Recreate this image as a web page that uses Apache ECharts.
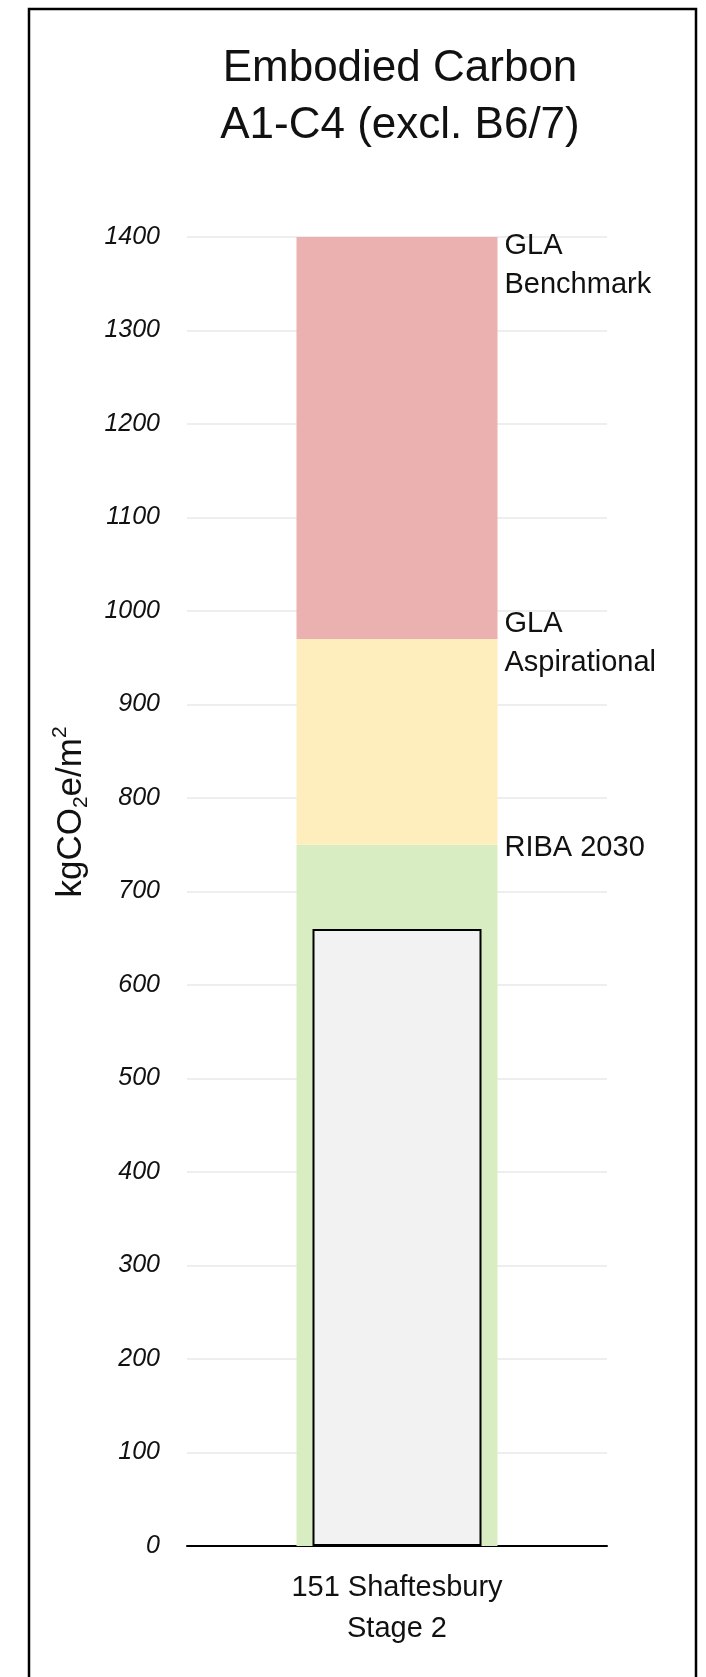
<!DOCTYPE html>
<html>
<head>
<meta charset="utf-8">
<title>Embodied Carbon</title>
<script src="https://cdn.jsdelivr.net/npm/echarts@6/dist/echarts.min.js"></script>
<style>
  html, body { margin: 0; padding: 0; background: #ffffff; }
  #chart { width: 706px; height: 1677px; }
</style>
</head>
<body>
<div id="chart"></div>
<script>
// Project category and its embodied carbon result (kgCO2e/m2)
const categories = ['151 Shaftesbury\nStage 2'];
const projectValues = [660];

// Benchmark bands: upper limit of each band, bottom to top
const bandNames = ['RIBA 2030', 'GLA\nAspirational', 'GLA\nBenchmark'];
const bandLimits = [750, 970, 1400];
const bandColors = ['#D9EDC3', '#FEEEBE', '#EBB0B0'];
// vertical nudge of each band caption relative to its upper limit
const bandLabelShift = [3, 4, 28];

// Y axis ticks
const yMin = 0, yMax = 1400, yStep = 100;

const FONT = '"Liberation Sans", Arial, sans-serif';

const chart = echarts.init(document.getElementById('chart'), null, { renderer: 'canvas' });

// Bands are stacked, so each series carries the thickness of its band
const bandSeries = bandLimits.map((limit, i) => {
  const below = i === 0 ? 0 : bandLimits[i - 1];
  return {
    name: bandNames[i].replace('\n', ' '),
    type: 'bar',
    stack: 'bands',
    xAxisIndex: 0,
    barWidth: 201,
    silent: true,
    itemStyle: { color: bandColors[i] },
    label: {
      show: true,
      position: ['100%', 0],
      align: 'left',
      verticalAlign: 'middle',
      offset: [7, bandLabelShift[i]],
      formatter: () => bandNames[i],
      fontFamily: FONT,
      fontSize: 29,
      lineHeight: 39,
      color: '#111111'
    },
    data: categories.map(() => limit - below),
    z: 2
  };
});

const option = {
  backgroundColor: '#ffffff',
  animation: false,
  title: {
    text: 'Embodied Carbon\nA1-C4 (excl. B6/7)',
    left: 395,
    top: 35,
    textAlign: 'center',
    textStyle: {
      fontFamily: FONT,
      fontWeight: 'normal',
      fontSize: 44,
      lineHeight: 57,
      color: '#111111'
    }
  },
  grid: {
    left: 187,
    right: 99,
    top: 237,
    bottom: 131,
    containLabel: false
  },
  xAxis: [
    {
      type: 'category',
      data: categories,
      axisLine: { show: true, lineStyle: { color: '#000000', width: 2 } },
      axisTick: { show: false },
      axisLabel: {
        margin: 21,
        fontFamily: FONT,
        fontSize: 29,
        lineHeight: 41,
        color: '#111111'
      },
      splitLine: { show: false }
    },
    {
      type: 'category',
      data: categories,
      show: false
    }
  ],
  yAxis: {
    type: 'value',
    min: yMin,
    max: yMax,
    interval: yStep,
    axisLine: { show: false },
    axisTick: { show: false },
    axisLabel: {
      margin: 27,
      formatter: (v) => String(v),
      fontFamily: FONT,
      fontStyle: 'italic',
      fontSize: 25,
      color: '#111111'
    },
    splitLine: { show: true, lineStyle: { color: '#E8E8E8', width: 1.5 } }
  },
  graphic: [
    {
      type: 'rect',
      shape: { x: 29, y: 9, width: 667, height: 1690 },
      style: { fill: 'none', stroke: '#000000', lineWidth: 2.5 },
      silent: true,
      z: 100
    },
    {
      type: 'text',
      x: 71,
      y: 812,
      rotation: Math.PI / 2,
      style: {
        text: 'kgCO{sub|2}e/m{sup|2}',
        align: 'center',
        verticalAlign: 'middle',
        fontFamily: FONT,
        fontSize: 35,
        lineHeight: 42,
        fill: '#111111',
        rich: {
          sub: { fontFamily: FONT, fontSize: 21, lineHeight: 21, verticalAlign: 'bottom', fill: '#111111' },
          sup: { fontFamily: FONT, fontSize: 21, lineHeight: 21, verticalAlign: 'top', fill: '#111111' }
        }
      },
      silent: true
    }
  ],
  series: [
    ...bandSeries,
    {
      name: 'Project',
      type: 'bar',
      xAxisIndex: 1,
      barWidth: 169,
      itemStyle: { color: '#F2F2F2', borderColor: '#000000', borderWidth: 2 },
      data: projectValues,
      z: 3
    }
  ]
};

chart.setOption(option);
</script>
</body>
</html>
